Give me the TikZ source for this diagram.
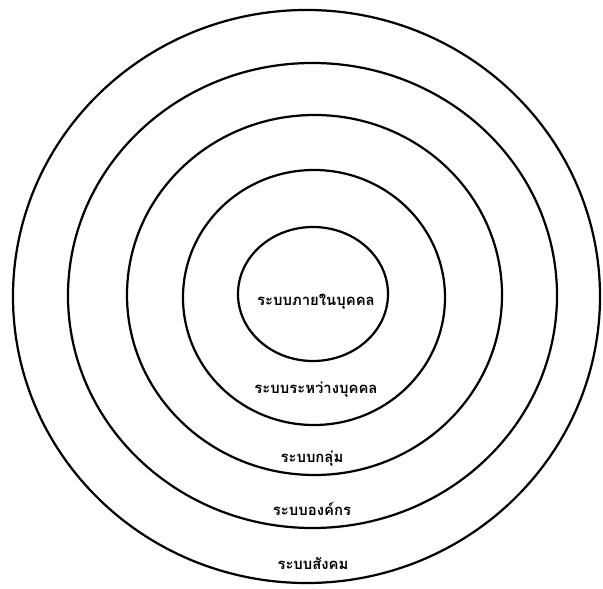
\documentclass[tikz,border=0pt]{standalone}
\usepackage{fontspec}
\newfontfamily\thaifont[Script=Thai]{Loma}
\usepackage{tikz}
\usetikzlibrary{positioning}

\begin{document}
\begin{tikzpicture}[x=0.03cm,y=-0.03cm,every node/.style={font=\thaifont\bfseries\fontsize{12.7}{14}\selectfont,inner sep=0pt}]
\tikzstyle{ring}=[draw=black,line width=1.9pt]
\useasboundingbox (0,0) rectangle (603,589);
% vong chan jak nai su nok
\draw[ring] (313,294) ellipse [x radius=2.25cm,y radius=2.01cm];
\draw[ring] (314,297.5) ellipse [x radius=3.93cm,y radius=3.825cm];
\draw[ring] (314.5,295) ellipse [x radius=5.625cm,y radius=5.4cm];
\draw[ring] (312.5,295.5) ellipse [x radius=7.335cm,y radius=6.975cm];
\draw[ring] (306.5,296.5) ellipse [x radius=8.805cm,y radius=8.595cm];
% label
\node (intra) at (316,302) {ระบบภายในบุคคล};
\node (inter) at (316,390) {ระบบระหว่างบุคคล};
\node (group) at (312,459) {ระบบกลุ่ม};
\node (org) at (312,509) {ระบบองค์กร};
\node (soc) at (313,564) {ระบบสังคม};
\end{tikzpicture}
\end{document}
